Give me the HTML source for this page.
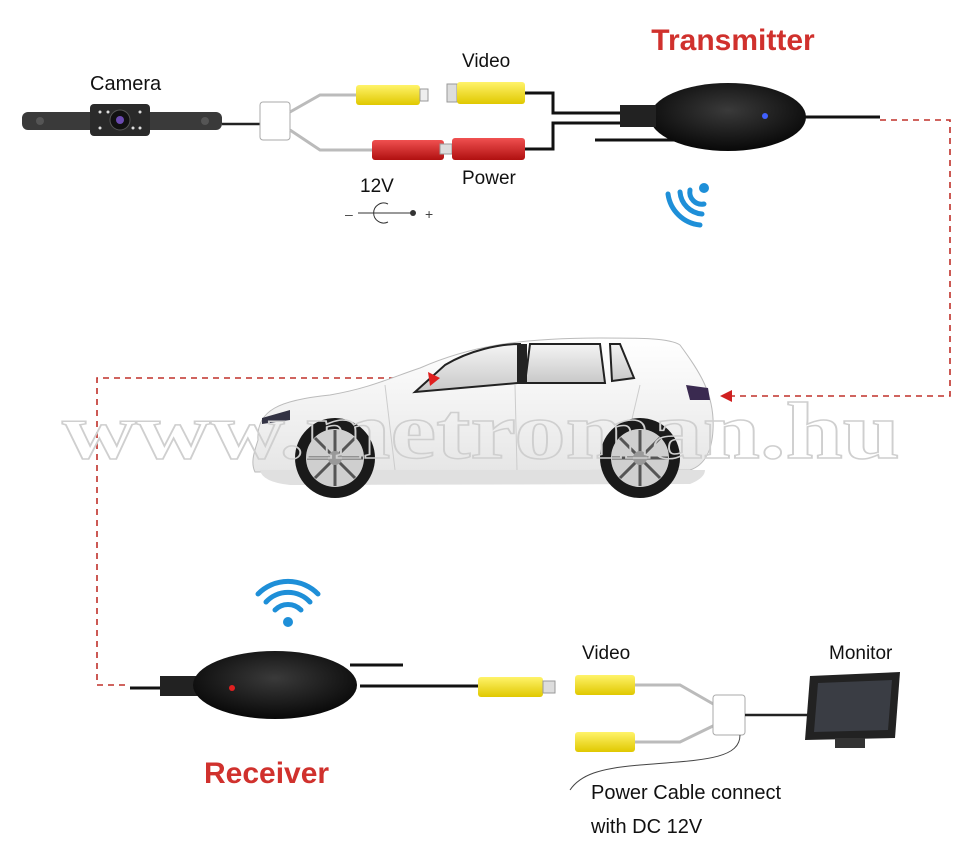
<!DOCTYPE html>
<html><head><meta charset="utf-8"><style>
html,body{margin:0;padding:0;background:#fff}
svg{display:block}
text{font-family:"Liberation Sans",sans-serif}
text.wm{font-family:"Liberation Serif",serif}
</style></head><body>
<svg width="962" height="863" viewBox="0 0 962 863" xmlns="http://www.w3.org/2000/svg">
<defs>
<radialGradient id="blk" cx="50%" cy="40%" r="60%"><stop offset="0" stop-color="#3a3a3a"/><stop offset="1" stop-color="#080808"/></radialGradient>
<linearGradient id="yel" x1="0" y1="0" x2="0" y2="1"><stop offset="0" stop-color="#fff36a"/><stop offset="1" stop-color="#e0c800"/></linearGradient>
<linearGradient id="red" x1="0" y1="0" x2="0" y2="1"><stop offset="0" stop-color="#f05050"/><stop offset="1" stop-color="#b01010"/></linearGradient>
<linearGradient id="car" x1="0" y1="0" x2="0" y2="1"><stop offset="0" stop-color="#ffffff"/><stop offset="1" stop-color="#e6e6e6"/></linearGradient>
<linearGradient id="win" x1="0" y1="0" x2="0" y2="1"><stop offset="0" stop-color="#f4f4f4"/><stop offset="1" stop-color="#c8c8c8"/></linearGradient>
</defs>

<g stroke="#c0302a" stroke-width="1.6" stroke-dasharray="6,5" fill="none">
<path d="M880 120 H950 V396 H728"/>
<path d="M428 378 H97 V685 H130"/>
</g>
<polygon points="720,396 732,390 732,402" fill="#d02020"/>

<text x="90" y="90" font-size="20" fill="#111">Camera</text>
<rect x="22" y="112" width="200" height="18" rx="6" fill="#3a3a3a"/>
<rect x="90" y="104" width="60" height="32" rx="4" fill="#2a2a2a"/>
<circle cx="120" cy="120" r="10" fill="#111" stroke="#555"/>
<circle cx="120" cy="120" r="4" fill="#6a4ab0"/>
<g fill="#ddd"><circle cx="100" cy="112" r="1.5"/><circle cx="100" cy="128" r="1.5"/><circle cx="140" cy="112" r="1.5"/><circle cx="140" cy="128" r="1.5"/><circle cx="108" cy="112" r="1.5"/><circle cx="133" cy="128" r="1.5"/></g>
<circle cx="40" cy="121" r="4" fill="#555"/><circle cx="205" cy="121" r="4" fill="#555"/>
<path d="M222 124 H262" stroke="#222" stroke-width="2.5"/>
<rect x="260" y="102" width="30" height="38" rx="3" fill="#fff" stroke="#aaa"/>
<path d="M290 112 L320 95 H358 M290 130 L320 150 H372" stroke="#bbb" stroke-width="3" fill="none"/>
<rect x="356" y="85" width="64" height="20" rx="3" fill="url(#yel)"/>
<rect x="372" y="140" width="72" height="20" rx="3" fill="url(#red)"/>
<rect x="420" y="89" width="8" height="12" fill="#eee" stroke="#999"/>
<text x="462" y="67" font-size="19" fill="#111">Video</text>
<text x="462" y="184" font-size="19" fill="#111">Power</text>
<text x="360" y="192" font-size="19" fill="#111">12V</text>
<text x="345" y="219" font-size="14" fill="#444">–</text>
<path d="M388 204 A10 10 0 1 0 388 222" stroke="#333" fill="none"/><path d="M358 213 H414" stroke="#333"/><circle cx="413" cy="213" r="3" fill="#333"/>
<text x="425" y="219" font-size="14" fill="#444">+</text>
<rect x="447" y="84" width="10" height="18" fill="#ddd" stroke="#999"/>
<rect x="457" y="82" width="68" height="22" rx="3" fill="url(#yel)"/>
<rect x="440" y="144" width="12" height="10" fill="#ddd" stroke="#999"/>
<rect x="452" y="138" width="73" height="22" rx="3" fill="url(#red)"/>
<path d="M525 93 H553 V113 H655 M525 149 H553 V123 H655 M595 140 H700" stroke="#111" stroke-width="3" fill="none"/>
<ellipse cx="728" cy="117" rx="78" ry="34" fill="url(#blk)"/>
<rect x="620" y="105" width="36" height="22" fill="#222"/>
<circle cx="765" cy="116" r="3" fill="#4060ff"/>
<path d="M805 117 H880" stroke="#111" stroke-width="3"/>
<text x="733" y="50" text-anchor="middle" font-size="30" font-weight="bold" fill="#d0312d">Transmitter</text>
<g stroke="#1e8fd8" stroke-width="5" fill="none" stroke-linecap="round">
<path d="M690 190 A12 12 0 0 0 704 204"/><path d="M680 192 A24 24 0 0 0 702 214"/><path d="M668 194 A36 36 0 0 0 700 225"/>
</g>
<circle cx="704" cy="188" r="5" fill="#1e8fd8"/>

<path d="M258 440 C256 410 280 400 330 395 C370 388 390 378 420 368 C470 346 520 338 600 338 C640 338 670 338 680 345 C700 372 715 395 713 430 C712 450 705 465 690 470 L255 472 C250 462 255 450 258 440 Z" fill="url(#car)" stroke="#bbb"/>
<path d="M260 470 Q262 482 290 485 L690 484 Q705 478 705 470 Z" fill="#e0e0e0"/>
<path d="M415 392 L445 365 C470 350 500 344 520 344 L518 383 Z" fill="url(#win)" stroke="#222" stroke-width="2"/>
<path d="M530 344 L600 344 L605 383 L525 383 Z" fill="url(#win)" stroke="#222" stroke-width="2"/>
<path d="M610 344 L620 344 L634 378 L612 381 Z" fill="url(#win)" stroke="#222" stroke-width="2"/>
<rect x="517" y="344" width="10" height="40" fill="#222"/>
<path d="M385 385 L395 470 M515 385 L517 470 M640 385 L620 470" stroke="#ccc" fill="none"/>
<path d="M686 385 L708 388 L710 400 L690 400 Z" fill="#3a2a50"/>
<path d="M262 418 L290 410 L290 420 L262 424 Z" fill="#334"/>
<circle cx="335" cy="458" r="40" fill="#1a1a1a"/><circle cx="335" cy="458" r="29" fill="#cfcfcf"/>
<g stroke="#555" stroke-width="3"><path d="M335 430 V486 M307 458 H363 M315 438 L355 478 M355 438 L315 478"/></g>
<circle cx="335" cy="458" r="7" fill="#999"/>
<circle cx="640" cy="458" r="40" fill="#1a1a1a"/><circle cx="640" cy="458" r="29" fill="#cfcfcf"/>
<g stroke="#555" stroke-width="3"><path d="M640 430 V486 M612 458 H668 M620 438 L660 478 M660 438 L620 478"/></g>
<circle cx="640" cy="458" r="7" fill="#999"/>
<polygon points="440,378 428,372 430,386" fill="#e02020"/>

<text class="wm" x="62" y="458" textLength="838" lengthAdjust="spacingAndGlyphs" font-weight="bold" font-size="80" fill="none" stroke="#cfcfcf" stroke-width="1.5">www.metroman.hu</text>

<g stroke="#1e8fd8" stroke-width="5" fill="none" stroke-linecap="round">
<path d="M275 610 A18 18 0 0 1 301 610"/><path d="M266 602 A30 30 0 0 1 310 602"/><path d="M258 594 A42 42 0 0 1 318 594"/>
</g>
<circle cx="288" cy="622" r="5" fill="#1e8fd8"/>
<path d="M130 688 H200 M350 665 H403 M360 686 H480" stroke="#111" stroke-width="3"/>
<rect x="160" y="676" width="42" height="20" fill="#222"/>
<ellipse cx="275" cy="685" rx="82" ry="34" fill="url(#blk)"/>
<circle cx="232" cy="688" r="3" fill="#e02020"/>
<rect x="478" y="677" width="65" height="20" rx="3" fill="url(#yel)"/>
<rect x="543" y="681" width="12" height="12" fill="#ddd" stroke="#999"/>
<rect x="575" y="675" width="60" height="20" rx="3" fill="url(#yel)"/>
<rect x="575" y="732" width="60" height="20" rx="3" fill="url(#yel)"/>
<path d="M635 685 H680 L715 705 M635 742 H680 L715 725" stroke="#bbb" stroke-width="3" fill="none"/>
<rect x="713" y="695" width="32" height="40" rx="3" fill="#fff" stroke="#aaa"/>
<path d="M745 715 H808" stroke="#222" stroke-width="2.5"/>
<path d="M740 735 C740 760 700 760 640 765 C600 768 580 775 570 790" stroke="#444" fill="none"/>
<path d="M810 676 L900 672 L895 738 L805 740 Z" fill="#222"/>
<path d="M818 683 L892 680 L888 730 L814 732 Z" fill="#3a3d44"/>
<rect x="835" y="738" width="30" height="10" fill="#333"/>
<text x="829" y="659" font-size="19" fill="#111">Monitor</text>
<text x="582" y="659" font-size="19" fill="#111">Video</text>
<text x="591" y="799" font-size="20" fill="#111">Power Cable connect</text>
<text x="591" y="833" font-size="20" fill="#111">with DC 12V</text>
<text x="204" y="783" font-size="30" font-weight="bold" fill="#d0312d">Receiver</text>
</svg>
</body></html>
